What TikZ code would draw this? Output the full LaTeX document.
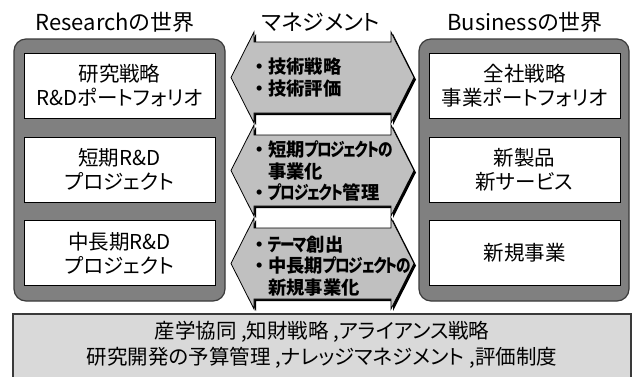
\documentclass[tikz,border=0pt]{standalone}
\usepackage{fontspec}
\setmainfont{Noto Sans CJK JP}[Script=CJK, RawFeature={+palt}]
\newfontfamily\kanafont{Noto Sans CJK JP}[Script=CJK, RawFeature={+palt}, FakeStretch=0.8, LetterSpace=-7]
\newcommand\kn[1]{{\kanafont #1}}
\definecolor{panelgray}{HTML}{808080}
\definecolor{paneledge}{HTML}{3A3A3A}
\definecolor{arrowgray}{HTML}{C0C0C0}
\definecolor{basegray}{HTML}{D9D9D9}
\newcommand\bul{\makebox[13pt][l]{\hspace{4pt}\makebox[0pt]{・}}}
\newcommand\ind{\hspace{13pt}}
\tikzset{
  panel/.style={fill=panelgray, draw=paneledge, line width=1.2pt, rounded corners=12pt},
  whitebox/.style={draw=black, fill=white, line width=0.9pt, minimum width=191pt, minimum height=65pt, inner sep=0pt, align=center, font=\fontsize{20.5}{24}\selectfont},
  titletext/.style={inner sep=0pt, font=\fontsize{22}{24}\selectfont},
  mgtext/.style={inner sep=0pt, anchor=west, align=left, font=\fontsize{18.3}{21.5}\selectfont\bfseries},
  basebox/.style={fill=basegray, draw=paneledge, line width=1.2pt},
  basetext/.style={inner sep=0pt, align=center, font=\fontsize{20.5}{26}\selectfont},
  mgarrow/.pic={
    \fill[black] (233,2) -- (256,-43.5) -- (256,-33.5) -- (393,-33.5) -- (393,-43.5) -- (416,2) -- (393,47.5) -- (393,37.5) -- (256,37.5) -- (256,47.5) -- cycle;
    \filldraw[fill=arrowgray, draw=black, line width=0.8pt] (231,0) -- (254,-45.5) -- (254,-35.5) -- (391,-35.5) -- (391,-45.5) -- (414,0) -- (391,45.5) -- (391,35.5) -- (254,35.5) -- (254,45.5) -- cycle;
  }
}
\begin{document}
\begin{tikzpicture}[x=1pt,y=-1pt]
\useasboundingbox (0,0) rectangle (632,376);
\clip (0,0) rectangle (632,376);
\fill[white] (0,0) rectangle (632,376);

% titles
\node[titletext] (titleR) at (115,22) {Researchの世界};
\node[titletext] (titleM) at (321,22) {マネジメント};
\node[titletext] (titleB) at (525,22) {Businessの世界};

% panels
\draw[panel] (14,39) rectangle (225,301);
\draw[panel] (419,39) rectangle (629,301);

% left boxes
\node[whitebox] (r1) at (119.5,85.5) {研究戦略\\R\&Dポートフォリオ};
\node[whitebox] (r2) at (119.5,169.5) {短期R\&D\\プロジェクト};
\node[whitebox] (r3) at (119.5,253) {中長期R\&D\\プロジェクト};

% right boxes
\node[whitebox] (b1) at (524.5,85.5) {全社戦略\\事業ポートフォリオ};
\node[whitebox] (b2) at (524.5,169.5) {新製品\\新サービス};
\node[whitebox] (b3) at (524.5,253) {新規事業};

% management arrows
\pic at (0,77.5) {mgarrow};
\pic at (0,170.5) {mgarrow};
\pic at (0,263.5) {mgarrow};

\node[mgtext] (m1) at (255,77.5) {\bul 技術戦略\\\bul 技術評価};
\node[mgtext] (m2) at (255,171) {\bul 短期\kn{プロジェクトの}\\\ind 事業化\\\bul \kn{プロジェクト}管理};
\node[mgtext] (m3) at (255,266) {\bul \kn{テーマ}創出\\\bul 中長期\kn{プロジェクトの}\\\ind 新規事業化};

% base box
\draw[basebox] (13,314) rectangle (631,380);
\node[basetext] (base) at (322,345) {産学協同 ,知財戦略 ,アライアンス戦略\\研究開発の予算管理 ,ナレッジマネジメント ,評価制度};
\end{tikzpicture}
\end{document}
